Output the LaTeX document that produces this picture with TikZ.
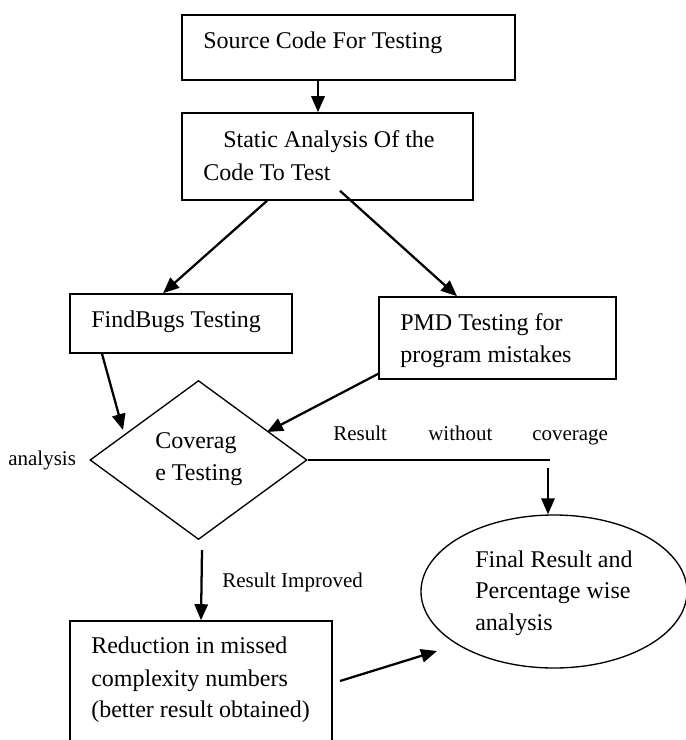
\documentclass[tikz,border=0pt]{standalone}
\usepackage{fontspec}
\setmainfont{Liberation Serif}
\usetikzlibrary{shapes.geometric,arrows.meta,calc}
\tikzset{
  boxnode/.style={draw, line width=1.2pt, rectangle, inner sep=0pt},
  txt/.style={anchor=base west, inner sep=0pt, font=\fontsize{18pt}{24pt}\selectfont},
  lbl/.style={anchor=base west, inner sep=0pt, font=\fontsize{15.75pt}{20pt}\selectfont},
  arr/.style={line width=1.7pt, -{Triangle[length=12pt,width=10pt]}},
  plain/.style={line width=1.5pt}
}
\begin{document}
\begin{tikzpicture}[x=0.75pt,y=-0.75pt]
\clip (0,0) rectangle (686,740);
\fill[white] (0,0) rectangle (686,740);

% shapes
\node[boxnode, minimum width=333*0.75pt, minimum height=65*0.75pt] (src) at (348.5,47.5) {};
\node[boxnode, minimum width=291*0.75pt, minimum height=87*0.75pt] (sa) at (327.5,156.5) {};
\node[boxnode, minimum width=222*0.75pt, minimum height=59*0.75pt] (fb) at (181,323.5) {};
\node[boxnode, minimum width=237*0.75pt, minimum height=82*0.75pt] (pmd) at (497.5,338) {};
\node[draw, diamond, line width=1pt, inner sep=0pt, minimum width=217*0.75pt, minimum height=159*0.75pt] (cov) at (198.5,460) {};
\node[draw, ellipse, line width=1pt, inner sep=0pt, minimum width=266*0.75pt, minimum height=153*0.75pt] (ell) at (554,591.5) {};
\node[boxnode, minimum width=262*0.75pt, minimum height=139*0.75pt] (red) at (201,690.5) {};

% texts
\node[txt] (t1) at (203,48) {Source Code For Testing};
\node[txt] (t2a) at (223,147) {Static Analysis Of the};
\node[txt] (t2b) at (203,180) {Code To Test};
\node[txt] (t3) at (91,327) {FindBugs Testing};
\node[txt] (t4a) at (400,330) {PMD Testing for};
\node[txt] (t4b) at (400,362) {program mistakes};
\node[txt] (t5a) at (155,448) {Coverag};
\node[txt] (t5b) at (155,480) {e Testing};
\node[txt] (t6a) at (475,567) {Final Result and};
\node[txt] (t6b) at (475,598) {Percentage wise};
\node[txt] (t6c) at (475,630) {analysis};
\node[txt] (t7a) at (91,653) {Reduction in missed};
\node[txt] (t7b) at (91,686) {complexity numbers};
\node[txt] (t7c) at (91,717) {(better result obtained)};

% labels
\node[lbl] (l1) at (8,465) {analysis};
\node[lbl] (l2a) at (333,440) {Result};
\node[lbl] (l2b) at (428,440) {without};
\node[lbl] (l2c) at (532,440) {coverage};
\node[lbl] (l3) at (222,587) {Result Improved};

% connectors
\draw[arr] ($(src.south)+(-30.5,0)$) -- ($(sa.north)+(-9.5,0)$);
\draw[arr] ($(sa.south)+(-60.5,0)$) -- ($(fb.north)+(-18,0)$);
\draw[arr] ($(sa.south)+(12.5,-10)$) -- ($(pmd.north)+(-40.5,0)$);
\draw[arr] ($(fb.south)+(-79,0)$) -- ($(cov.center)+(-75.5,-30)$);
\draw[arr] ($(pmd.south west)+(0,-6)$) -- ($(cov.center)+(68.5,-28)$);
\coordinate (c1) at (550,460);
\coordinate (c2) at (548,468);
\draw[plain] (cov.east) -- (c1);
\draw[arr] (c2) -- ($(ell.north)+(-6,0)$);
\draw[arr] ($(cov.south)+(3.5,10)$) -- (red.north);
\coordinate (c3) at (340,681);
\draw[arr] (c3) -- ($(ell.center)+(-117,59.5)$);
\end{tikzpicture}
\end{document}
